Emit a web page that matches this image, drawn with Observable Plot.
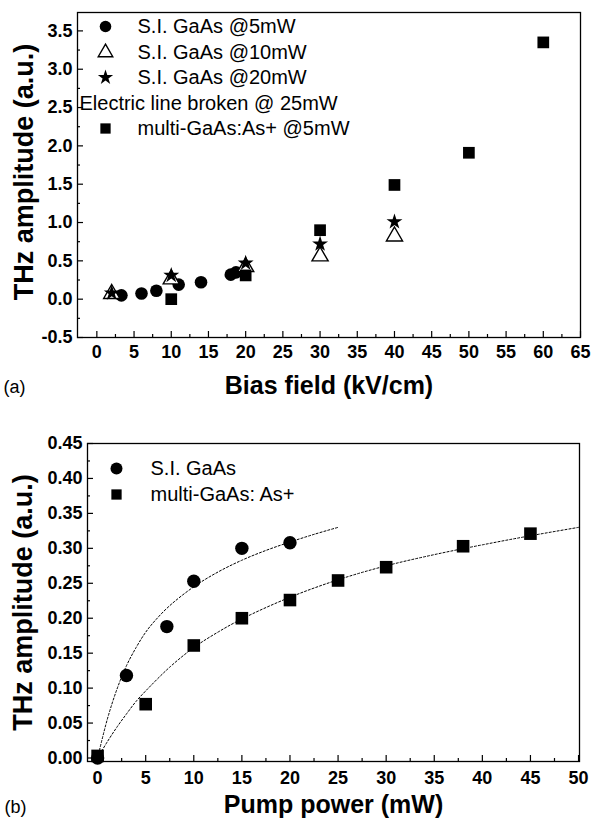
<!DOCTYPE html>
<html><head><meta charset="utf-8">
<script src="https://cdn.jsdelivr.net/npm/d3@7"></script>
<script src="https://cdn.jsdelivr.net/npm/@observablehq/plot@0.6"></script>
<style>
body{margin:0;background:#fff;width:592px;height:821px;overflow:hidden}
#a svg,#b svg{display:block}
</style></head><body><div id="a"></div><div id="b"></div>
<script>
// ---------- Panel (a): THz amplitude vs bias field ----------
const biasCircle = [3.3, 6, 8, 11, 14, 18, 18.7];
const ampCircle  = [0.05, 0.075, 0.11, 0.19, 0.22, 0.32, 0.35];
const biasTri    = [2, 10, 20, 30, 40];
const ampTri     = [0.07, 0.26, 0.42, 0.56, 0.82];
const biasStar   = [2, 10, 20, 30, 40];
const ampStar    = [0.08, 0.31, 0.47, 0.72, 1.01];
const biasSquare = [10, 20, 30, 40, 50, 60];
const ampSquare  = [0.0, 0.31, 0.90, 1.49, 1.91, 3.35];
const legendA = ["S.I. GaAs @5mW", "S.I. GaAs @10mW", "S.I. GaAs @20mW", "Electric line broken @ 25mW", "multi-GaAs:As+ @5mW"];
const xMajorA = [0,5,10,15,20,25,30,35,40,45,50,55,60,65];
const xMinorA = [2.5,7.5,12.5,17.5,22.5,27.5,32.5,37.5,42.5,47.5,52.5,57.5,62.5];
const yMajorA = [-0.5,0,0.5,1,1.5,2,2.5,3,3.5];
const yMinorA = [-0.25,0.25,0.75,1.25,1.75,2.25,2.75,3.25];

// ---------- Panel (b): THz amplitude vs pump power ----------
const pumpCircle = [0, 3, 7.2, 10, 15, 20];
const ampCircleB = [0, 0.118, 0.188, 0.253, 0.300, 0.308];
const pumpSquare = [0, 5, 10, 15, 20, 25, 30, 38, 45];
const ampSquareB = [0.003, 0.077, 0.161, 0.200, 0.226, 0.254, 0.273, 0.303, 0.321];
const fitCircleX = [0, 1, 2, 3, 4, 5, 6, 7.5, 10, 12.5, 15, 17.5, 20, 22.5, 25];
const fitCircleY = [0, 0.055, 0.098, 0.132, 0.158, 0.18, 0.197, 0.218, 0.245, 0.266, 0.283, 0.297, 0.309, 0.32, 0.33];
const fitSquareX = [0, 1, 2, 3, 4, 5, 7.5, 10, 12.5, 15, 20, 25, 30, 35, 40, 45, 50];
const fitSquareY = [0, 0.023, 0.044, 0.063, 0.081, 0.096, 0.13, 0.158, 0.18, 0.199, 0.23, 0.255, 0.275, 0.291, 0.305, 0.318, 0.33];
const legendB = ["S.I. GaAs", "multi-GaAs: As+"];
const xMajorB = [0,5,10,15,20,25,30,35,40,45,50];
const xMinorB = [2.5,7.5,12.5,17.5,22.5,27.5,32.5,37.5,42.5,47.5];
const yMajorB = [0,0.05,0.1,0.15,0.2,0.25,0.3,0.35,0.4,0.45];
const yMinorB = [0.025,0.075,0.125,0.175,0.225,0.275,0.325,0.375,0.425];

const FONT = '"Liberation Sans", Arial, sans-serif';
const zip = (xs, ys) => xs.map((x, i) => ({x, y: ys[i]}));

function tickMarks(xMaj, xMin, yMaj, yMin, fw, fh) {
  return [
    Plot.ruleX(xMaj, {x: d => d, insetTop: fh - 6, stroke: "black", strokeWidth: 1.2}),
    Plot.ruleX(xMin, {x: d => d, insetTop: fh - 3, stroke: "black", strokeWidth: 1.2}),
    Plot.ruleY(yMaj, {y: d => d, insetRight: fw - 6, stroke: "black", strokeWidth: 1.2}),
    Plot.ruleY(yMin, {y: d => d, insetRight: fw - 3, stroke: "black", strokeWidth: 1.2})
  ];
}

// Panel (a)
const A = {w: 592, h: 405, ml: 77, mr: 12, mt: 12, mb: 68};
const fwA = A.w - A.ml - A.mr, fhA = A.h - A.mt - A.mb;
const symA = [
  {symbol: "circle", fill: "black", stroke: "none", r: 5.8},
  {symbol: "triangle", fill: "white", stroke: "black", r: 5.4},
  {symbol: "star", fill: "black", stroke: "none", r: 4.8},
  null,
  {symbol: "square", fill: "black", stroke: "none", r: 5.8}
];
const rowDy = [14, 40, 65, 91, 116];
const legendMarksA = [];
legendA.forEach((t, i) => {
  const s = symA[i];
  if (s) legendMarksA.push(Plot.dot([t], {frameAnchor: "top-left", dx: 28, dy: rowDy[i], ...s, strokeWidth: 1.4}));
  legendMarksA.push(Plot.text([t], {text: d => d, frameAnchor: "top-left", dx: s ? 60 : 2, dy: rowDy[i], textAnchor: "start", lineAnchor: "middle", fontSize: 20, fill: "black"}));
});

const plotA = Plot.plot({
  width: A.w, height: A.h,
  marginLeft: A.ml, marginRight: A.mr, marginTop: A.mt, marginBottom: A.mb,
  x: {domain: [-2.6, 65]},
  y: {domain: [-0.5, 3.74]},
  style: {fontFamily: FONT, color: "black", background: "white", overflow: "visible"},
  marks: [
    ...tickMarks(xMajorA, xMinorA, yMajorA, yMinorA, fwA, fhA),
    Plot.frame({stroke: "black", strokeWidth: 1.3}),
    Plot.axisX(xMajorA, {tickSize: 0, tickPadding: 8, label: null, fontSize: 18, fontWeight: "bold", tickFormat: d => String(d)}),
    Plot.axisY(yMajorA, {tickSize: 0, tickPadding: 5, label: null, fontSize: 18, fontWeight: "bold", tickFormat: d => d.toFixed(1)}),
    Plot.text(["Bias field (kV/cm)"], {text: d => d, frameAnchor: "bottom", textAnchor: "middle", dy: 56, lineAnchor: "bottom", fontSize: 25, fontWeight: "bold"}),
    Plot.text(["(a)"], {text: d => d, frameAnchor: "bottom-left", dx: -74, dy: 55, textAnchor: "start", lineAnchor: "bottom", fontSize: 18}),
    Plot.text(["THz amplitude (a.u.)"], {text: d => d, frameAnchor: "left", textAnchor: "middle", dx: -53, dy: -3, rotate: -90, fontSize: 27, fontWeight: "bold"}),
    Plot.dot(zip(biasCircle, ampCircle), {x: "x", y: "y", symbol: "circle", fill: "black", r: 6.3}),
    Plot.dot(zip(biasTri, ampTri), {x: "x", y: "y", symbol: "triangle", fill: "white", stroke: "black", strokeWidth: 1.4, r: 6}),
    Plot.dot(zip(biasStar, ampStar), {x: "x", y: "y", symbol: "star", fill: "black", r: 5}),
    Plot.dot(zip(biasSquare, ampSquare), {x: "x", y: "y", symbol: "square", fill: "black", r: 6.6}),
    ...legendMarksA
  ]
});
document.getElementById("a").append(plotA);

// Panel (b)
const B = {w: 592, h: 416, ml: 87, mr: 13, mt: 38, mb: 60};
const fwB = B.w - B.ml - B.mr, fhB = B.h - B.mt - B.mb;
const symB = [
  {symbol: "circle", fill: "black", r: 6},
  {symbol: "square", fill: "black", r: 5.8}
];
const rowDyB = [25, 51];
const legendMarksB = [];
legendB.forEach((t, i) => {
  legendMarksB.push(Plot.dot([t], {frameAnchor: "top-left", dx: 29, dy: rowDyB[i], ...symB[i]}));
  legendMarksB.push(Plot.text([t], {text: d => d, frameAnchor: "top-left", dx: 63, dy: rowDyB[i], textAnchor: "start", lineAnchor: "middle", fontSize: 20, fill: "black"}));
});

const plotB = Plot.plot({
  width: B.w, height: B.h,
  marginLeft: B.ml, marginRight: B.mr, marginTop: B.mt, marginBottom: B.mb,
  x: {domain: [-1.05, 50.1]},
  y: {domain: [-0.005, 0.45]},
  style: {fontFamily: FONT, color: "black", background: "white", overflow: "visible"},
  marks: [
    ...tickMarks(xMajorB, xMinorB, yMajorB, yMinorB, fwB, fhB),
    Plot.frame({stroke: "black", strokeWidth: 1.3}),
    Plot.axisX(xMajorB, {tickSize: 0, tickPadding: 10, label: null, fontSize: 18, fontWeight: "bold", tickFormat: d => String(d)}),
    Plot.axisY(yMajorB, {tickSize: 0, tickPadding: 5, label: null, fontSize: 18, fontWeight: "bold", tickFormat: d => d.toFixed(2)}),
    Plot.text(["Pump power (mW)"], {text: d => d, frameAnchor: "bottom", textAnchor: "middle", dy: 51, lineAnchor: "bottom", fontSize: 25, fontWeight: "bold"}),
    Plot.text(["(b)"], {text: d => d, frameAnchor: "bottom-left", dx: -83, dy: 51, textAnchor: "start", lineAnchor: "bottom", fontSize: 18}),
    Plot.text(["THz amplitude (a.u.)"], {text: d => d, frameAnchor: "left", textAnchor: "middle", dx: -64, rotate: -90, fontSize: 27, fontWeight: "bold"}),
    Plot.line(zip(fitCircleX, fitCircleY), {x: "x", y: "y", stroke: "black", strokeWidth: 1, strokeDasharray: "2,2", curve: "catmull-rom"}),
    Plot.line(zip(fitSquareX, fitSquareY), {x: "x", y: "y", stroke: "black", strokeWidth: 1, strokeDasharray: "2,2", curve: "catmull-rom"}),
    Plot.dot(zip(pumpCircle, ampCircleB), {x: "x", y: "y", symbol: "circle", fill: "black", r: 6.7}),
    Plot.dot(zip(pumpSquare, ampSquareB), {x: "x", y: "y", symbol: "square", fill: "black", r: 7.1}),
    ...legendMarksB
  ]
});
document.getElementById("b").append(plotB);
</script>
</body></html>
